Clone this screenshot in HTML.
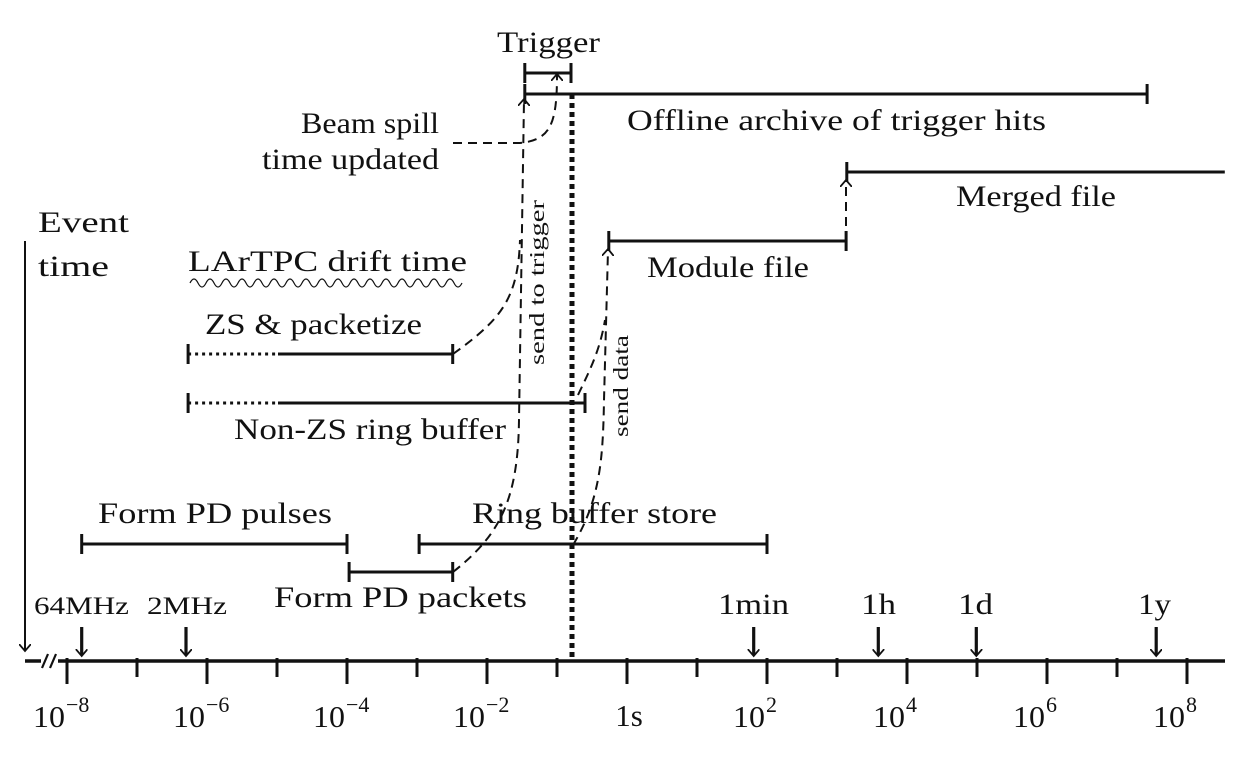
<!DOCTYPE html>
<html><head><meta charset="utf-8"><style>
body{margin:0;background:#fff}
svg{display:block}
text{font-family:"Liberation Serif",serif;fill:#111}
</style></head><body>
<svg id="chart" width="1253" height="759" viewBox="0 0 1253 759" xmlns="http://www.w3.org/2000/svg">
<defs>
<marker id="ah" markerWidth="12" markerHeight="12" refX="6" refY="6" orient="auto" markerUnits="userSpaceOnUse"><path d="M0,0 L7,6 L0,12" fill="none" stroke="#111" stroke-width="1.8"/></marker>
</defs>
<g id="g"></g>
</svg>
<script>
const tickExps=[-9,-8,-7,-6,-5,-4,-3,-2,-1,0,1,2,3,4,5,6,7,8];
const tickLabels=[["10","−8",-8],["10","−6",-6],["10","−4",-4],["10","−2",-2],["1s","",0],["10","2",2],["10","4",4],["10","6",6],["10","8",8]];
const markerNames=["64MHz","2MHz","1min","1h","1d","1y"];
const markerExps=[-7.79,-6.3,1.81,3.59,4.99,7.56];
const barNames=["form-pd-pulses","form-pd-packets","ring-buffer-store","zs-packetize","non-zs-ring-buffer","trigger","offline-archive","module-file","merged-file"];
const barStart=[-7.79,-3.97,-2.97,-6.27,-6.27,-1.46,-1.46,-0.26,3.14];
const barEnd=[-4.0,-2.49,2.0,-2.49,-0.6,-0.8,7.43,3.13,8.54];
const barY=[544,572,544,354,403,73,94,241,172];
const x=e=>627+70*e;
const g=document.getElementById('g');
const NS="http://www.w3.org/2000/svg";
function mk(t,a,name,p){const el=document.createElementNS(NS,t);for(const k in a)el.setAttribute(k,a[k]);


(p||g).appendChild(el);return el;}
// axis
mk('line',{x1:25,y1:661,x2:1225,y2:661,stroke:'#111','stroke-width':3.5},'time-axis');
mk('line',{x1:41,y1:661,x2:58,y2:661,stroke:'#fff','stroke-width':5},'axis-break-gap');
mk('path',{d:'M42,668 L48,654 M50,668 L56,654',stroke:'#111','stroke-width':2.2,fill:'none'},'axis-break');
tickExps.forEach(e=>{const maj=e%2===0;
 mk('line',{x1:x(e),y1:658,x2:x(e),y2:maj?684:677,stroke:'#111','stroke-width':3},'axis-tick');});
tickLabels.forEach(t=>{
 if(t[1]){const el=mk('text',{x:x(t[2])-34,y:727,style:'font-size:31px',textLength:32,lengthAdjust:'spacingAndGlyphs'},'tick-label');el.textContent=t[0];
  const s=mk('text',{x:x(t[2])-1,y:712,style:'font-size:22px'},'tick-exponent');s.textContent=t[1];}
 else{const el=mk('text',{x:x(t[2])+2,y:726,'text-anchor':'middle',style:'font-size:31px'},'tick-label');el.textContent=t[0];}});
// event time
mk('line',{x1:25,y1:241,x2:25,y2:650,stroke:'#111','stroke-width':2,'marker-end':'url(#ah)'},'event-time-arrow');
const labels=[["Event",38,232,91],["time",38,276,71],
["Trigger",497,52,103],["Offline archive of trigger hits",627,130,419],["Beam spill",301,133,138],["time updated",262,169,177],
["Merged file",956,206,160],["Module file",647,277,162],["LArTPC drift time",188,271,279],["ZS & packetize",205,334,217],
["Non-ZS ring buffer",234,439,272],["Form PD pulses",98,523,234],["Ring buffer store",472,523,245],["Form PD packets",274,607,253]];
labels.forEach(l=>{const e=mk('text',{x:l[1],y:l[2],style:'font-size:30px',textLength:l[3],lengthAdjust:'spacingAndGlyphs'},'label');e.textContent=l[0];});
// markers
const mLeft=[34,147,718,861,958,1138],mW=[95,80,71,35,35,33];
markerExps.forEach((e,i)=>{mk('line',{x1:x(e),y1:627,x2:x(e),y2:655,stroke:'#111','stroke-width':3.2,'marker-end':'url(#ah)'},'marker-arrow');
 const l=mk('text',{x:mLeft[i],y:614,style:i<2?'font-size:25px':'font-size:30px',textLength:mW[i],lengthAdjust:'spacingAndGlyphs'},'marker-label');l.textContent=markerNames[i];});
// bars
barNames.forEach((n,i)=>{const x1=x(barStart[i]),x2=x(barEnd[i]),y=barY[i];
 const dotted=(n==='zs-packetize'||n==='non-zs-ring-buffer');
 if(dotted){mk('line',{x1:x1,y1:y,x2:278,y2:y,stroke:'#111','stroke-width':3,'stroke-dasharray':'3,4'},n+'-dotted');
  mk('line',{x1:278,y1:y,x2:x2,y2:y,stroke:'#111','stroke-width':3},n+'-bar');}
 else mk('line',{x1:x1,y1:y,x2:x2,y2:y,stroke:'#111','stroke-width':3},n+'-bar');
 mk('line',{x1:x1,y1:y-10,x2:x1,y2:y+10,stroke:'#111','stroke-width':3},n+'-cap-start');
 if(n!=='merged-file')mk('line',{x1:x2,y1:y-10,x2:x2,y2:y+10,stroke:'#111','stroke-width':3},n+'-cap-end');});
mk('line',{x1:572,y1:94,x2:572,y2:661,stroke:'#111','stroke-width':5,'stroke-dasharray':'5,4'},'trigger-time-line');
// wavy
let d='M190,283';for(let i=0;i<17;i++){const a=190+i*16;d+=` Q${a+4},275 ${a+8},283 Q${a+12},291 ${a+16},283`;}
mk('path',{d:d,fill:'none',stroke:'#111','stroke-width':1.2},'drift-time-wave');
// dashed connectors
const ds={stroke:'#111','stroke-width':2,fill:'none','stroke-dasharray':'9,6'};
function dp(dd,name,arrow){const a=Object.assign({d:dd},ds);if(arrow)a['marker-end']='url(#ah)';mk('path',a,name);}
dp('M453,572 C500,535 518,500 519,420 L524,100','send-to-trigger-arrow',true);
dp('M453,354 C500,320 518,300 520,240','zs-to-trigger-connector');
dp('M453,143 L520,143 C550,140 557,125 557,75','beam-spill-arrow',true);
dp('M573,545 C600,500 603,460 604,400 L608,250','send-data-arrow',true);
dp('M578,395 C590,370 600,350 605,320','ring-buffer-to-module-connector');
dp('M846,241 L846,181','module-to-merged-arrow',true);
let t=mk('text',{x:0,y:0,style:'font-size:21px',textLength:165,lengthAdjust:'spacingAndGlyphs',transform:'translate(544,365) rotate(-90)'},'send-to-trigger-label');t.textContent='send to trigger';
t=mk('text',{x:0,y:0,style:'font-size:21px',textLength:102,lengthAdjust:'spacingAndGlyphs',transform:'translate(628,437) rotate(-90)'},'send-data-label');t.textContent='send data';
</script>
</body></html>
